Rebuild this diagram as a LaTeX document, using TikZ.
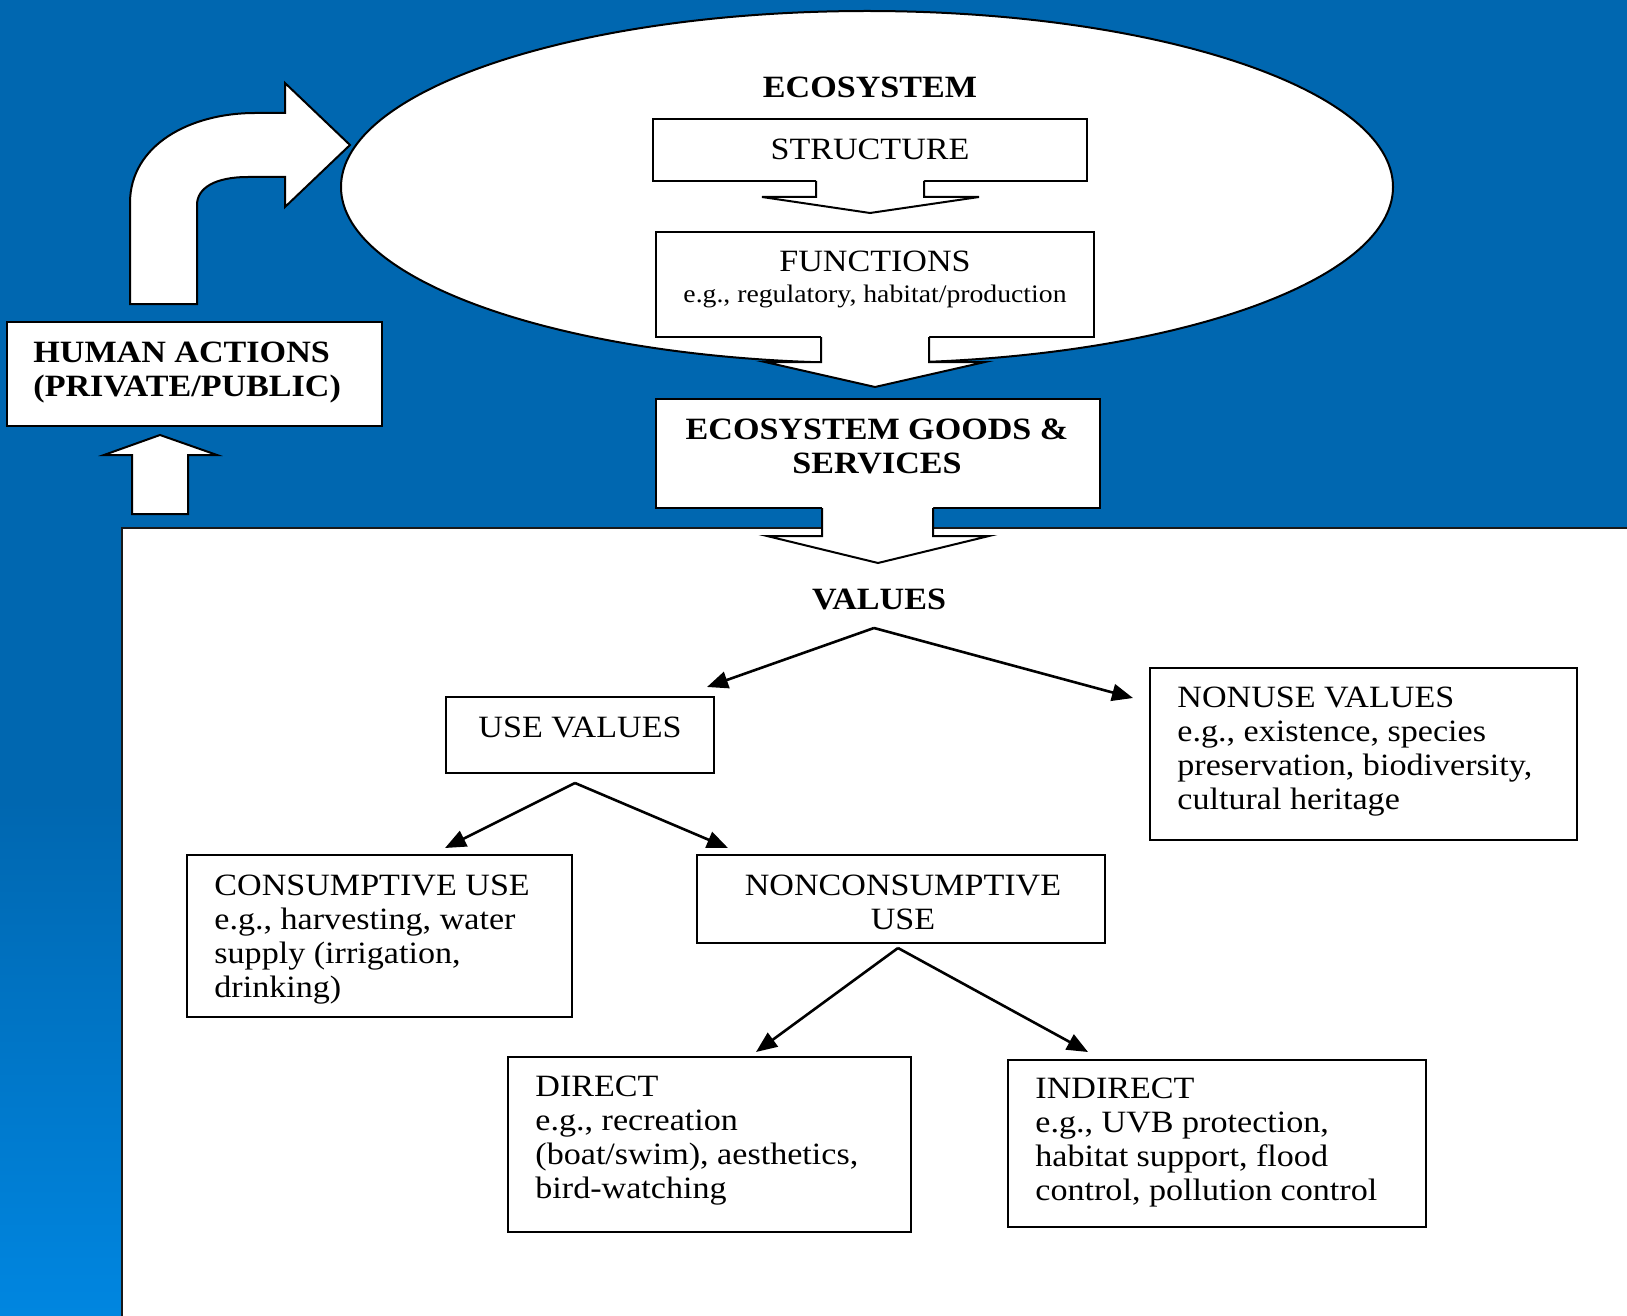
\documentclass[tikz,border=0pt]{standalone}
\usepackage{fontspec}
\setmainfont{Liberation Serif}[FakeStretch=1.1]
\usetikzlibrary{arrows.meta,shapes.geometric,fit}
\definecolor{bgA}{RGB}{0,103,176}
\definecolor{bgB}{RGB}{0,134,224}
\newcommand\stackL[1]{\vtop{\baselineskip=17.1pt\lineskiplimit=-100pt\halign{##\hfil\cr#1\crcr}}}
\newcommand\stackC[1]{\vtop{\baselineskip=17pt\lineskiplimit=-100pt\halign{\hfil##\hfil\cr#1\crcr}}}
\begin{document}
\begin{tikzpicture}[x=0.5pt,y=-0.5pt,
  box/.style={draw, fill=white, line width=1pt, inner sep=0pt},
  lbox/.style={draw, fill=white, line width=1.1pt, inner sep=0pt},
  tx/.style={inner sep=0pt, font=\fontsize{15.5}{17}\selectfont},
  hd/.style={inner sep=0pt, font=\fontsize{15.5}{17}\selectfont\bfseries},
  subtx/.style={inner sep=0pt, font=\fontsize{12.6}{15}\selectfont},
  blk/.style={fill=white, draw=black, line width=1pt, line join=miter},
  blkline/.style={draw=black, line width=1pt, line join=miter},
  conn/.style={line width=1.3pt, -{Triangle[length=10.5pt,width=8.5pt]}}]

\useasboundingbox (0,0) rectangle (1627,1316);
% background
\fill[bgA] (0,0) rectangle (1627,1316);
\shade[top color=bgA, bottom color=bgB] (0,800) rectangle (1627,1316);

% lower white panel
\fill[white] (122,528) rectangle (1627,1316);
\draw[line width=1pt, black!90] (1627,528) -- (122,528) -- (122,1316);

% ecosystem ellipse
\node[ellipse, draw, fill=white, line width=1pt, minimum width=526pt, minimum height=176pt, inner sep=0pt] (eco) at (867,187) {};

% bent arrow from human actions to ecosystem
\draw[blk] (130,304) -- (130,203) .. controls (130,145) and (190,113) .. (255,113) -- (285,113) -- (285,83) -- (350,145) -- (285,207) -- (285,177) -- (248,177) .. controls (215,177) and (197,188) .. (197,205) -- (197,304) -- cycle;

% upper boxes
\node[box, fit={(7,322) (382,426)}] (human) {};
\node[box, fit={(653,119) (1087,181)}] (struct) {};
\node[box, fit={(656,232) (1094,337)}] (func) {};
\node[box, fit={(656,399) (1100,508)}] (goods) {};

% block arrows
\fill[white] (816,179) -- (816,197) -- (762,197) -- (870,213) -- (979,197) -- (924,197) -- (924,179) -- cycle;
\draw[blkline] (816,181) -- (816,197) -- (762,197) -- (870,213) -- (979,197) -- (924,197) -- (924,181);
\fill[white] (821,335) -- (821,362) -- (765,362) -- (875,387) -- (985,362) -- (929,362) -- (929,335) -- cycle;
\draw[blkline] (821,337) -- (821,362) -- (765,362) -- (875,387) -- (985,362) -- (929,362) -- (929,337);
\fill[white] (822,506) -- (822,536) -- (767,536) -- (878,563) -- (989,536) -- (933,536) -- (933,506) -- cycle;
\draw[blkline] (822,508) -- (822,536) -- (767,536) -- (878,563) -- (989,536) -- (933,536) -- (933,508);

% up arrow to human actions
\draw[blk] (132,514) -- (132,455) -- (104,455) -- (160,435) -- (217,455) -- (188,455) -- (188,514) -- cycle;

% upper texts
\node[hd, anchor=base] (ecot) at (870,98) {ECOSYSTEM};
\node[tx, anchor=base] (structt) at (870,160) {STRUCTURE};
\node[tx, anchor=base] (funct) at (875,271) {FUNCTIONS};
\node[subtx, anchor=base] (funcs) at (875,302) {e.g., regulatory, habitat/production};
\node[hd, anchor=base] (goodst) at (877,439) {\stackC{ECOSYSTEM GOODS \&\cr SERVICES}};
\node[hd, anchor=base west] (humant) at (33,362) {\stackL{HUMAN ACTIONS\cr (PRIVATE/PUBLIC)}};
\node[hd, anchor=base] (valt) at (879,609) {VALUES};

% lower boxes
\node[lbox, fit={(446,697) (714,773)}] (use) {};
\node[lbox, fit={(1150,668) (1577,840)}] (nonuse) {};
\node[lbox, fit={(187,855) (572,1017)}] (cons) {};
\node[lbox, fit={(697,855) (1105,943)}] (noncons) {};
\node[lbox, fit={(508,1057) (911,1232)}] (direct) {};
\node[lbox, fit={(1008,1060) (1426,1227)}] (indirect) {};

% lower texts
\node[tx, anchor=base] (uset) at (580,737) {USE VALUES};
\node[tx, anchor=base west] (nonuset) at (1177,707) {\stackL{NONUSE VALUES\cr e.g., existence, species\cr preservation, biodiversity,\cr cultural heritage}};
\node[tx, anchor=base west] (const) at (214,895) {\stackL{CONSUMPTIVE USE\cr e.g., harvesting, water\cr supply (irrigation,\cr drinking)}};
\node[tx, anchor=base] (nonconst) at (903,895) {\stackC{NONCONSUMPTIVE\cr USE}};
\node[tx, anchor=base west] (directt) at (535,1096) {\stackL{DIRECT\cr e.g., recreation\cr (boat/swim), aesthetics,\cr bird-watching}};
\node[tx, anchor=base west] (indirectt) at (1035,1098) {\stackL{INDIRECT\cr e.g., UVB protection,\cr habitat support, flood\cr control, pollution control}};

% connectors
\coordinate (vsplit) at (874,628);
\coordinate (usetip) at (707,687);
\coordinate (nonusetip) at (1133,698);
\coordinate (usplit) at (575,783);
\coordinate (constip) at (445,848);
\coordinate (nctip) at (728,848);
\coordinate (ncsplit) at (898,948);
\coordinate (dirtip) at (756,1052);
\coordinate (indtip) at (1088,1052);
\draw[conn] (vsplit) -- (usetip);
\draw[conn] (vsplit) -- (nonusetip);
\draw[conn] (usplit) -- (constip);
\draw[conn] (usplit) -- (nctip);
\draw[conn] (ncsplit) -- (dirtip);
\draw[conn] (ncsplit) -- (indtip);
\end{tikzpicture}
\end{document}
